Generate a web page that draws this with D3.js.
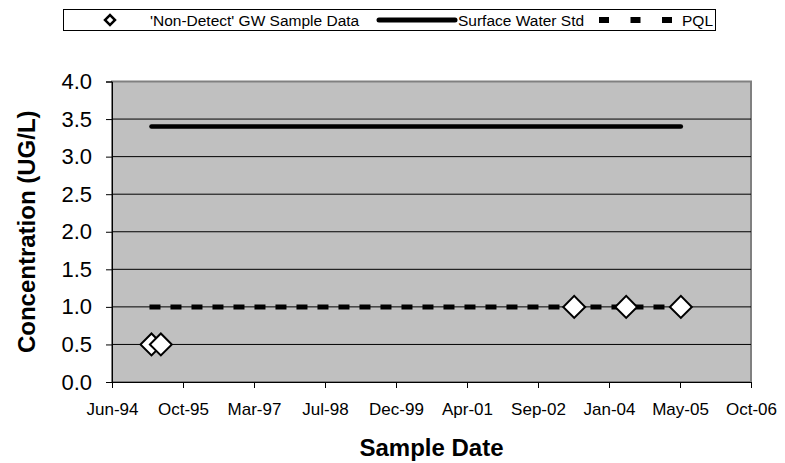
<!DOCTYPE html>
<html><head><meta charset="utf-8">
<script src="https://cdn.jsdelivr.net/npm/d3@7"></script>
<style>
html,body{margin:0;padding:0;background:#fff;}
svg{display:block;font-family:Arial,"Liberation Sans",sans-serif;}
</style></head>
<body><svg id="c" width="785" height="463"></svg>
<script>
// ---- data ----
const sampleDates = ["1995-03-20","1995-05-25","2003-05-14","2004-05-14","2005-06-03"];
const sampleValues = [0.5, 0.5, 1.0, 1.0, 1.0];
const surfaceWaterStd = 3.4;
const pql = 1.0;
const xDomain = ["1994-06-15","2006-10-10"];
const xTickStepDays = 500;
const yTicks = [0,0.5,1,1.5,2,2.5,3,3.5,4];
const legendLabels = ["'Non-Detect' GW Sample Data","Surface Water Std","PQL"];

const parse = d3.utcParse("%Y-%m-%d");
const pts = sampleDates.map((d,i)=>({date:parse(d), v:sampleValues[i]}));

const svg = d3.select("#c");
const L=112, R=751, T=81.5, B=382;
const x = d3.scaleUtc().domain(xDomain.map(parse)).range([L,R]);
const y = d3.scaleLinear().domain([0,4]).range([B,T]);

// plot area
svg.append("rect").attr("x",L).attr("y",T).attr("width",R-L).attr("height",B-T)
  .attr("fill","#c0c0c0").attr("stroke","#808080").attr("stroke-width",2);

// gridlines
svg.append("g").selectAll("line").data(yTicks.filter(t=>t>0 && t<4)).join("line")
  .attr("x1",L).attr("x2",R).attr("y1",d=>y(d)).attr("y2",d=>y(d))
  .attr("stroke","#000").attr("stroke-width",1);

// x ticks
const x0 = parse(xDomain[0]), x1 = parse(xDomain[1]);
const xTickVals = [];
for (let d=x0; d<=x1; d=d3.utcDay.offset(d,xTickStepDays)) xTickVals.push(d);
const fmt = d3.utcFormat("%b-%y");
const xAxis = d3.axisBottom(x).tickValues(xTickVals).tickFormat(fmt).tickSize(6).tickPadding(15);
const gx = svg.append("g").attr("transform",`translate(0,${B})`).call(xAxis);
gx.select(".domain").attr("stroke","#000");
gx.selectAll(".tick line").attr("stroke","#000");
gx.selectAll("text").attr("font-size",17).attr("fill","#000");

// y ticks
const yAxis = d3.axisLeft(y).tickValues(yTicks).tickFormat(d3.format(".1f")).tickSize(6).tickPadding(14);
const gy = svg.append("g").attr("transform",`translate(${L},0)`).call(yAxis);
gy.select(".domain").attr("stroke","#000");
gy.selectAll(".tick line").attr("stroke","#000");
gy.selectAll("text").attr("font-size",22).attr("fill","#000");

// surface water std line
const first = pts[0].date, last = pts[pts.length-1].date;
svg.append("line").attr("x1",x(first)).attr("x2",x(last))
  .attr("y1",y(surfaceWaterStd)).attr("y2",y(surfaceWaterStd))
  .attr("stroke","#000").attr("stroke-width",4.5).attr("stroke-linecap","round");

// PQL line
svg.append("line").attr("x1",x(first)-2).attr("x2",x(last))
  .attr("y1",y(pql)).attr("y2",y(pql))
  .attr("stroke","#000").attr("stroke-width",5).attr("stroke-dasharray","11,10");

// sample points
const diamond = d3.symbol(d3.symbolSquare, 240);
svg.append("g").selectAll("path").data(pts).join("path")
  .attr("d",diamond)
  .attr("transform",d=>`translate(${x(d.date)},${y(d.v)}) rotate(45)`)
  .attr("fill","#fff").attr("stroke","#000").attr("stroke-width",2);

// axis titles
svg.append("text").attr("x",(L+R)/2).attr("y",456).attr("text-anchor","middle")
  .attr("font-size",24).attr("font-weight","bold").text("Sample Date");
svg.append("text").attr("transform",`translate(35,${(T+B)/2}) rotate(-90)`)
  .attr("text-anchor","middle").attr("font-size",24).attr("font-weight","bold")
  .text("Concentration (UG/L)");

// legend
const lg = svg.append("g");
lg.append("rect").attr("x",63.5).attr("y",9.5).attr("width",652).attr("height",21)
  .attr("fill","#fff").attr("stroke","#000").attr("stroke-width",1);
const ly = 20;
lg.append("path").attr("d",d3.symbol(d3.symbolSquare,50))
  .attr("transform",`translate(110,${ly}) rotate(45)`)
  .attr("fill","#fff").attr("stroke","#000").attr("stroke-width",2.5);
lg.append("text").attr("x",150).attr("y",ly+5.5).attr("font-size",15.5).text(legendLabels[0]);
lg.append("line").attr("x1",379).attr("x2",455).attr("y1",ly).attr("y2",ly)
  .attr("stroke","#000").attr("stroke-width",5).attr("stroke-linecap","round");
lg.append("text").attr("x",458).attr("y",ly+5.5).attr("font-size",15.5).text(legendLabels[1]);
lg.append("line").attr("x1",599).attr("x2",672).attr("y1",ly).attr("y2",ly)
  .attr("stroke","#000").attr("stroke-width",6).attr("stroke-dasharray","10,21.5");
lg.append("text").attr("x",682).attr("y",ly+5.5).attr("font-size",15.5).text(legendLabels[2]);
</script></body></html>
